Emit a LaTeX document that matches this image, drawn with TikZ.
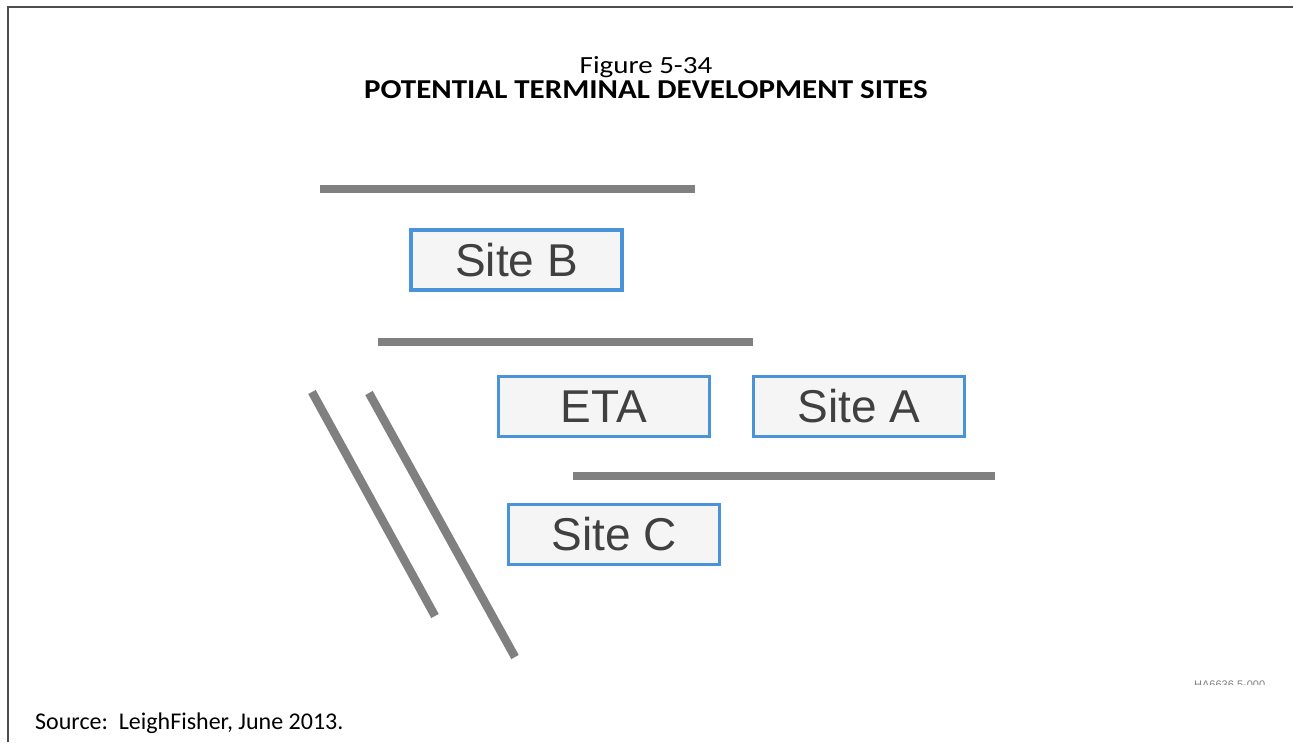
\documentclass[tikz,border=0pt]{standalone}
\usepackage{fontspec}
\usepackage{graphicx}
\setmainfont{Carlito}
\newfontfamily\arialfont{Liberation Sans}
\definecolor{framegray}{HTML}{4D4D4D}
\definecolor{roadgray}{HTML}{808080}
\definecolor{boxblue}{HTML}{4A93D9}
\definecolor{boxfill}{HTML}{F5F5F5}
\definecolor{boxtext}{HTML}{404040}
\tikzset{
  road/.style={draw=roadgray, line width=8.5pt},
  sitebox/.style={draw=boxblue, line width=3.2pt, fill=boxfill, rectangle,
    minimum width=211pt, minimum height=60pt, inner sep=0pt,
    font=\arialfont\fontsize{46}{50}\selectfont, text=boxtext},
  frameline/.style={draw=framegray, line width=2pt},
  titletext/.style={anchor=base, inner sep=0pt}
}
\begin{document}
\begin{tikzpicture}[x=1pt,y=-1pt]
\useasboundingbox (0,0) rectangle (1293,742);
\fill[white] (0,0) rectangle (1293,742);
% frame
\coordinate (fl) at (8,742);
\coordinate (ftl) at (8,6.5);
\coordinate (ftr) at (1293,6.5);
\draw[frameline] (fl) -- (ftl) -- (ftr);
% titles
\node[titletext] (fig) at (646,73) {\scalebox{1}[0.85]{\fontsize{29}{33}\selectfont Figure 5-34}};
\node[titletext] (title) at (646,98) {\scalebox{1}[0.88]{\fontsize{31}{35}\selectfont\bfseries POTENTIAL TERMINAL DEVELOPMENT SITES}};
% roads
\coordinate (r1a) at (320,189); \coordinate (r1b) at (695,189);
\coordinate (r2a) at (378,342); \coordinate (r2b) at (753,342);
\coordinate (r3a) at (573,476); \coordinate (r3b) at (995,476);
\coordinate (d1a) at (312,392); \coordinate (d1b) at (435,616);
\coordinate (d2a) at (369,393); \coordinate (d2b) at (515,657);
\draw[road] (r1a) -- (r1b);
\draw[road] (r2a) -- (r2b);
\draw[road] (r3a) -- (r3b);
\draw[road] (d1a) -- (d1b);
\draw[road] (d2a) -- (d2b);
% sites
\node[sitebox] (siteB) at (516.5,260) {Site B};
\node[sitebox] (eta) at (604,406.5) {ETA};
\node[sitebox] (siteA) at (859,406.5) {Site A};
\node[sitebox] (siteC) at (614,534.5) {Site C};
% small clipped code
\begin{scope}
\clip (1150,670) rectangle (1293,684.5);
\node[anchor=base west, text=gray, font=\arialfont\fontsize{11}{13}\selectfont, inner sep=0pt] (code) at (1194,688.5) {HA6636 5-000};
\end{scope}
% source
\node[anchor=base west, inner sep=0pt] (src) at (35,729) {\fontsize{24}{28}\selectfont Source:\ \ LeighFisher, June 2013.};
\end{tikzpicture}
\end{document}
